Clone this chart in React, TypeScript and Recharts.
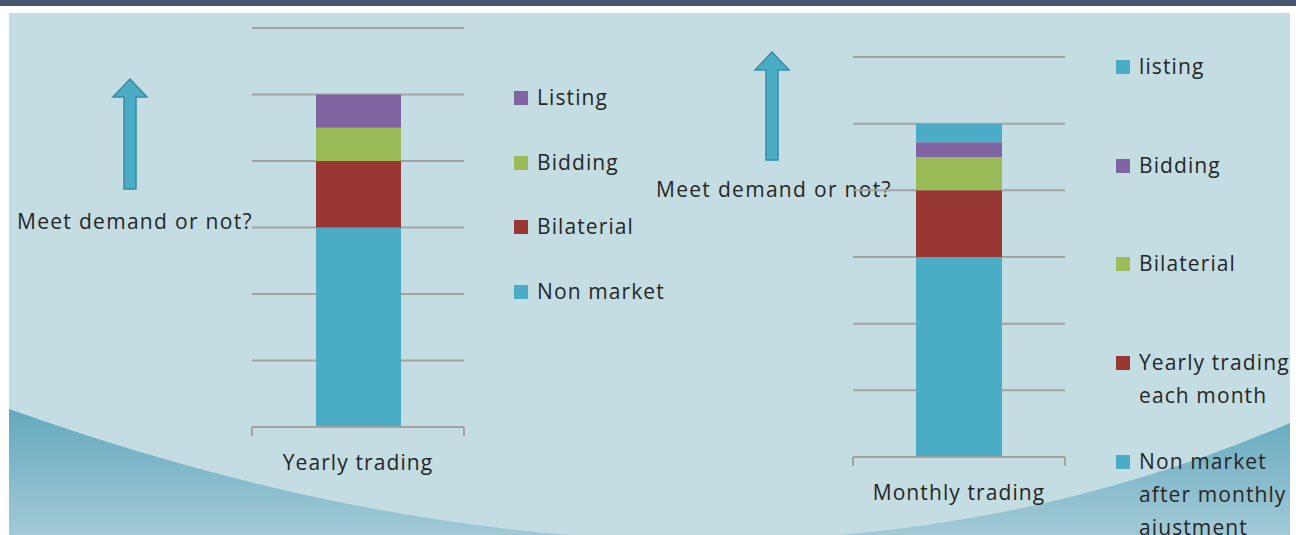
import { BarChart, Bar, XAxis, YAxis, CartesianGrid, Legend } from 'recharts';

// values (one stacked column per chart, 0–6 scale)
const yearlyCategories = ['Yearly trading'];
const yearlyNonMarket = [3];
const yearlyBilateral = [1];
const yearlyBidding = [0.5];
const yearlyListing = [0.5];

const monthlyCategories = ['Monthly trading'];
const monthlyNonMarket = [3];
const monthlyYearlyEachMonth = [1];
const monthlyBilateral = [0.5];
const monthlyBidding = [0.22];
const monthlyListing = [0.28];

const valueTicks = [0, 1, 2, 3, 4, 5, 6];

const CYAN = '#4bacc6';
const RED = '#993734';
const GREEN = '#9bbb59';
const PURPLE = '#8064a2';
const GRID = '#a3a3a3';
const TEXT = '#262626';
const FONT = '"Open Sans", sans-serif';
const PLOT_W = 212;

// stack order, bottom to top
const yearlySeries = [
  { key: 'nonMarket', name: 'Non market', color: CYAN },
  { key: 'bilateral', name: 'Bilaterial', color: RED },
  { key: 'bidding', name: 'Bidding', color: GREEN },
  { key: 'listing', name: 'Listing', color: PURPLE },
];

const monthlySeries = [
  { key: 'nonMarket', name: 'Non market\nafter monthly\najustment', color: CYAN },
  { key: 'yearlyEachMonth', name: 'Yearly trading\neach month', color: RED },
  { key: 'bilateral', name: 'Bilaterial', color: GREEN },
  { key: 'bidding', name: 'Bidding', color: PURPLE },
  { key: 'listing', name: 'listing', color: CYAN },
];

const yearlyData = yearlyCategories.map((name, i) => ({
  name,
  nonMarket: yearlyNonMarket[i],
  bilateral: yearlyBilateral[i],
  bidding: yearlyBidding[i],
  listing: yearlyListing[i],
}));

const monthlyData = monthlyCategories.map((name, i) => ({
  name,
  nonMarket: monthlyNonMarket[i],
  yearlyEachMonth: monthlyYearlyEachMonth[i],
  bilateral: monthlyBilateral[i],
  bidding: monthlyBidding[i],
  listing: monthlyListing[i],
}));

function CategoryTick({ x, y, payload }: { x?: number; y?: number; payload?: { value: string } }) {
  const half = PLOT_W / 2;
  const cx = x ?? 0;
  const cy = y ?? 0;
  return (
    <g>
      <line x1={cx - half} y1={cy} x2={cx - half} y2={cy + 9} stroke={GRID} strokeWidth={2} />
      <line x1={cx + half} y1={cy} x2={cx + half} y2={cy + 9} stroke={GRID} strokeWidth={2} />
      <text x={cx} y={cy + 43} textAnchor="middle" fill={TEXT} fontSize={21} letterSpacing={1.1} fontFamily={FONT}>
        {payload?.value}
      </text>
    </g>
  );
}

type LegendItem = { value: string; color: string; dataKey?: string };

function StackLegend({ payload, order, rowHeight }: { payload?: LegendItem[]; order: string[]; rowHeight: number }) {
  // top of the stack first
  const items = [...(payload ?? [])].sort(
    (a, b) => order.indexOf(String(b.dataKey)) - order.indexOf(String(a.dataKey)),
  );
  return (
    <div style={{ fontFamily: FONT, fontSize: 21, letterSpacing: 1.1, color: TEXT }}>
      {items.map((item) => (
        <div key={item.value} style={{ height: rowHeight, display: 'flex', alignItems: 'flex-start' }}>
          <span style={{ width: 14, height: 14, background: item.color, marginTop: 10, marginRight: 9, flex: 'none' }} />
          <span style={{ lineHeight: '33px', whiteSpace: 'pre-line' }}>{item.value}</span>
        </div>
      ))}
    </div>
  );
}

function Arrow({ cx, tip, base }: { cx: number; tip: number; base: number }) {
  const head = tip + 18;
  const pts = [
    [cx, tip], [cx + 17, head], [cx + 6, head], [cx + 6, base],
    [cx - 6, base], [cx - 6, head], [cx - 17, head],
  ].map((p) => p.join(',')).join(' ');
  return <polygon points={pts} fill={CYAN} stroke="#3a8aa3" strokeWidth={1.5} />;
}

export default function App() {
  return (
    <div style={{ position: 'absolute', left: 0, top: 0, width: 1296, height: 535, background: '#fff', overflow: 'hidden' }}>
      <svg width={1296} height={535} style={{ position: 'absolute', left: 0, top: 0 }}>
        <defs>
          <linearGradient id="swoosh" x1="0" y1="0" x2="0" y2="1">
            <stop offset="0.72" stopColor="#5aa3bb" />
            <stop offset="1" stopColor="#a2cad6" />
          </linearGradient>
        </defs>
        <rect x={0} y={0} width={1296} height={6} fill="#46556f" />
        <rect x={9} y={13} width={1281} height={522} fill="url(#swoosh)" />
        <path d="M9,13 H1290 V423 Q728,665 9,409 Z" fill="#c3dde3" />
        <Arrow cx={130} tip={79} base={189} />
        <Arrow cx={772} tip={52} base={160} />
        <text x={17} y={229} fill={TEXT} fontSize={21} letterSpacing={1.3} fontFamily={FONT}>Meet demand or not?</text>
        <text x={656} y={197} fill={TEXT} fontSize={21} letterSpacing={1.3} fontFamily={FONT}>Meet demand or not?</text>
      </svg>

      <div style={{ position: 'absolute', left: 0, top: 0 }}>
        <BarChart width={700} height={535} data={yearlyData} margin={{ top: 28, right: 236, bottom: 48, left: 252 }}>
          <CartesianGrid vertical={false} stroke={GRID} strokeWidth={2} />
          <YAxis hide domain={[0, 6]} ticks={valueTicks} />
          <XAxis
            dataKey="name"
            height={60}
            axisLine={{ stroke: GRID, strokeWidth: 2 }}
            tickLine={false}
            tickSize={0}
            tickMargin={0}
            tick={<CategoryTick />}
          />
          <Legend
            layout="vertical"
            align="center"
            verticalAlign="middle"
            wrapperStyle={{ left: 514, top: 81, width: 180 }}
            content={(props: any) => (
              <StackLegend payload={props.payload} order={yearlySeries.map((s) => s.key)} rowHeight={64.5} />
            )}
          />
          {yearlySeries.map((s) => (
            <Bar key={s.key} dataKey={s.key} name={s.name} stackId="a" fill={s.color} barSize={85} isAnimationActive={false} />
          ))}
        </BarChart>
      </div>

      <div style={{ position: 'absolute', left: 650, top: 0 }}>
        <BarChart width={646} height={535} data={monthlyData} margin={{ top: 57, right: 231, bottom: 18, left: 203 }}>
          <CartesianGrid vertical={false} stroke={GRID} strokeWidth={2} />
          <YAxis hide domain={[0, 6]} ticks={valueTicks} />
          <XAxis
            dataKey="name"
            height={60}
            axisLine={{ stroke: GRID, strokeWidth: 2 }}
            tickLine={false}
            tickSize={0}
            tickMargin={0}
            tick={<CategoryTick />}
          />
          <Legend
            layout="vertical"
            align="center"
            verticalAlign="middle"
            wrapperStyle={{ left: 466, top: 50, width: 185 }}
            content={(props: any) => (
              <StackLegend payload={props.payload} order={monthlySeries.map((s) => s.key)} rowHeight={98.7} />
            )}
          />
          {monthlySeries.map((s) => (
            <Bar key={s.key} dataKey={s.key} name={s.name} stackId="a" fill={s.color} barSize={86} isAnimationActive={false} />
          ))}
        </BarChart>
      </div>
    </div>
  );
}
